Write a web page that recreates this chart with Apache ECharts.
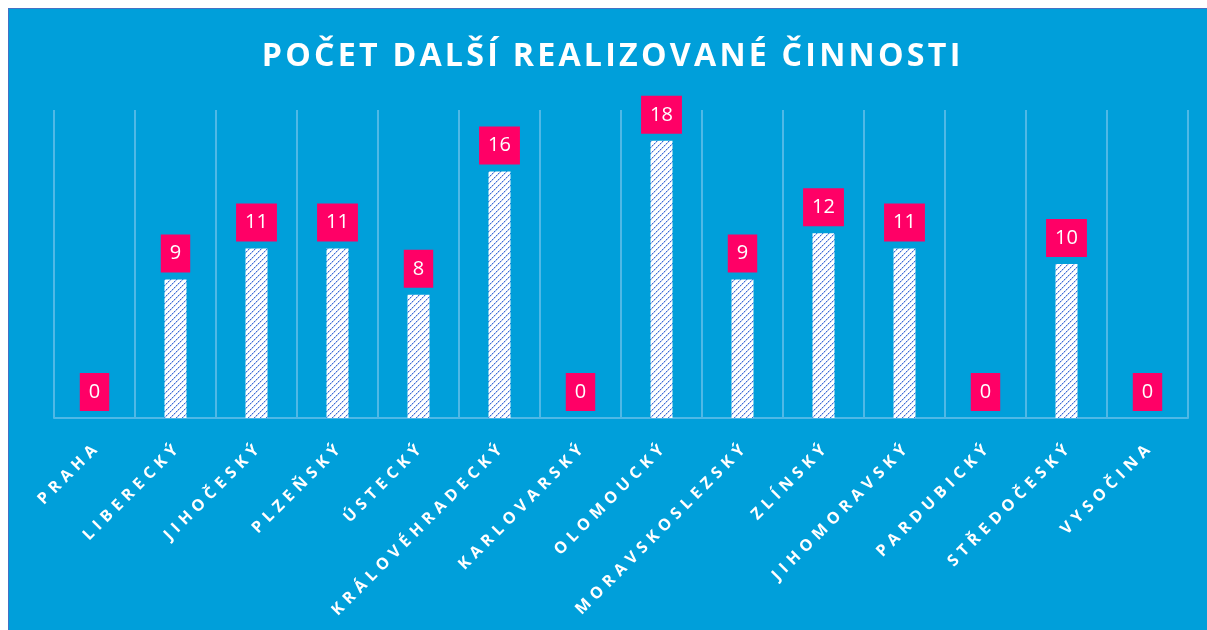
<!DOCTYPE html>
<html>
<head>
<meta charset="utf-8">
<script src="https://cdn.jsdelivr.net/npm/echarts@6/dist/echarts.min.js"></script>
<style>
  html, body { margin: 0; padding: 0; background: #fff; }
  .frame {
    position: absolute; left: 8px; top: 8px; right: 0; bottom: 0;
    background: #009fda;
    border-left: 1px solid #4472c4;
    border-top: 1px solid #4472c4;
  }
  #chart { position: absolute; left: 0; top: 0; width: 1207px; height: 630px; }
</style>
</head>
<body>
<div class="frame"></div>
<div id="chart"></div>
<script>
const titleText = "POČET DALŠÍ REALIZOVANÉ ČINNOSTI";
const regions = ["PRAHA", "LIBERECKÝ", "JIHOČESKÝ", "PLZEŇSKÝ", "ÚSTECKÝ", "KRÁLOVÉHRADECKÝ", "KARLOVARSKÝ",
  "OLOMOUCKÝ", "MORAVSKOSLEZSKÝ", "ZLÍNSKÝ", "JIHOMORAVSKÝ", "PARDUBICKÝ", "STŘEDOČESKÝ", "VYSOČINA"];
const counts = [0, 9, 11, 11, 8, 16, 0, 18, 9, 12, 11, 0, 10, 0];

// spaced-out caps like the original (canvas has no letter-spacing)
function spaced(s, gap) {
  return s.split("").join(gap);
}

// dotted diagonal hatch for the bars
function hatch() {
  const c = document.createElement("canvas");
  c.width = 6; c.height = 6;
  const ctx = c.getContext("2d");
  ctx.fillStyle = "#ffffff";
  ctx.fillRect(0, 0, 6, 6);
  for (let i = 0; i < 6; i++) {
    ctx.fillStyle = i % 2 ? "#9fb6ec" : "#3d6ad6";
    ctx.fillRect(i, 5 - i, 1, 1);
    ctx.fillStyle = "#c9d6f4";
    ctx.fillRect((i + 1) % 6, 5 - i, 1, 1);
  }
  return c;
}

const chart = echarts.init(document.getElementById("chart"));
chart.setOption({
  backgroundColor: "transparent",
  title: {
    text: spaced(titleText, "\u200A"),
    left: 606,
    textAlign: "center",
    top: 36,
    textStyle: { color: "#fff", fontSize: 32.2, fontWeight: "bold", fontFamily: "Open Sans" }
  },
  grid: { left: 54, right: 19, top: 110, bottom: 212 },
  xAxis: {
    type: "category",
    data: regions,
    axisLine: { lineStyle: { color: "#4fb8e6", width: 2 } },
    axisTick: { show: false },
    splitLine: { show: true, lineStyle: { color: "#4fb8e6", width: 2 } },
    axisLabel: {
      rotate: 45,
      interval: 0,
      margin: 30,
      color: "#fff",
      fontSize: 16,
      fontWeight: "bold",
      fontFamily: "Open Sans",
      formatter: (v) => spaced(v, "\u2004")
    }
  },
  yAxis: { type: "value", min: 0, max: 20, show: false, splitLine: { show: false } },
  series: [{
    type: "bar",
    data: counts,
    barWidth: 22,
    itemStyle: { color: { image: hatch(), repeat: "repeat" } },
    label: {
      show: true,
      position: "top",
      distance: 7,
      color: "#fff",
      fontSize: 20,
      lineHeight: 22,
      fontFamily: "Open Sans",
      backgroundColor: "#ff0066",
      padding: [8, 9, 8, 9]
    }
  }]
});
</script>
</body>
</html>
